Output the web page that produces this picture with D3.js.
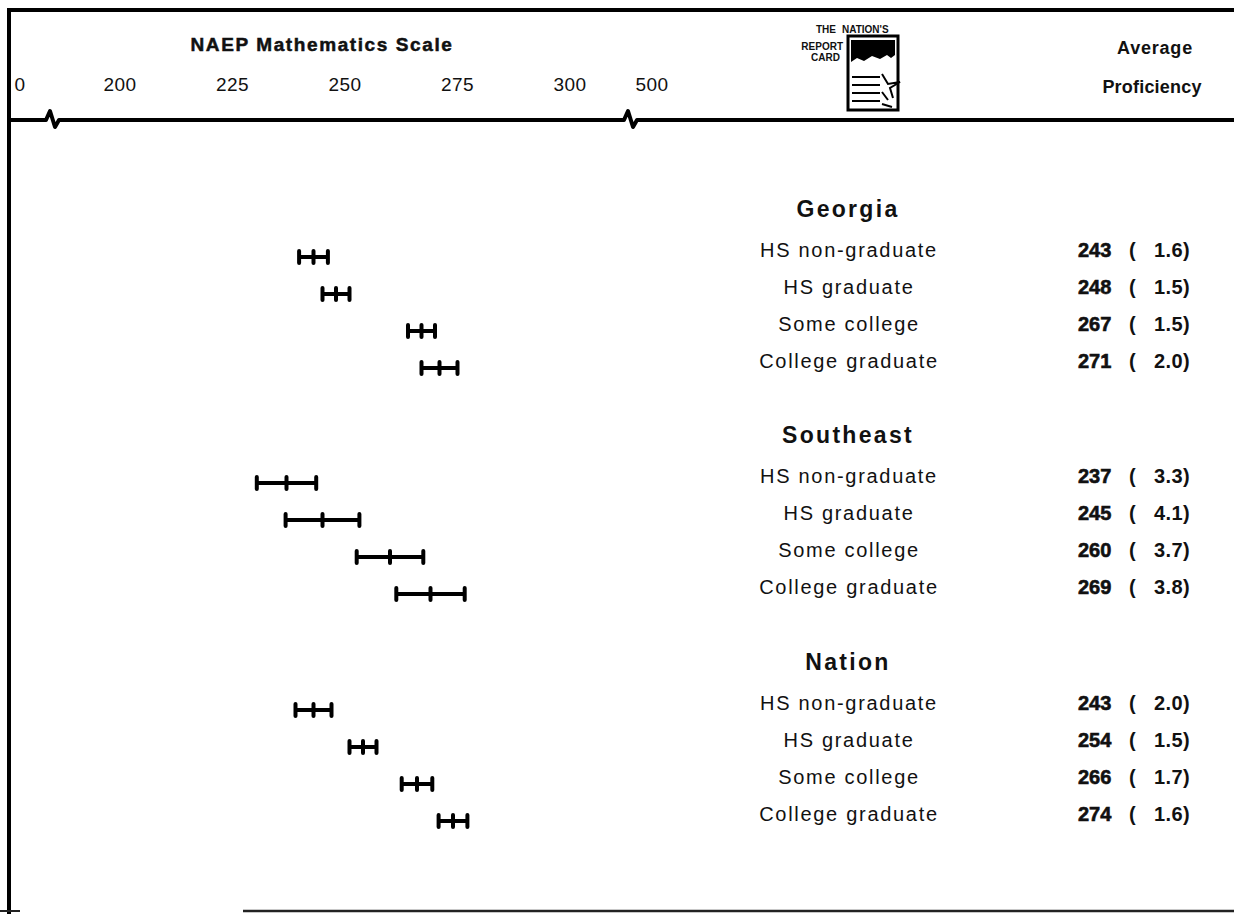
<!DOCTYPE html>
<html>
<head>
<meta charset="utf-8">
<script src="https://cdn.jsdelivr.net/npm/d3@7"></script>
<style>
  html, body { margin: 0; padding: 0; background: #fff; }
  text { font-family: "Liberation Sans", Arial, sans-serif; fill: #111; }
</style>
</head>
<body>
<div id="root"></div>
<script>
// data
const groups = ["Georgia", "Southeast", "Nation"];
const levels = ["HS non-graduate", "HS graduate", "Some college", "College graduate"];
const georgiaMeans = [243, 248, 267, 271];
const georgiaSE = [1.6, 1.5, 1.5, 2.0];
const southeastMeans = [237, 245, 260, 269];
const southeastSE = [3.3, 4.1, 3.7, 3.8];
const nationMeans = [243, 254, 266, 274];
const nationSE = [2.0, 1.5, 1.7, 1.6];
const tickValues = [0, 200, 225, 250, 275, 300, 500];

const w = 1234;
const h = 914;

const svg = d3.select("#root")
    .append("svg")
    .attr("width", w)
    .attr("height", h);

// broken axis: 0 | 200..300 | 500
const x = d3.scaleLinear()
    .domain([0, 200, 300, 500])
    .range([20, 120, 570, 652]);

const groupBase = [217, 443, 670];
const rowY = (g, i) => groupBase[g] + 40 + i * 37;

const rows = [];
[[georgiaMeans, georgiaSE], [southeastMeans, southeastSE], [nationMeans, nationSE]].forEach(([m, s], g) => {
    levels.forEach((lv, i) => rows.push({ group: g, i: i, level: lv, mean: m[i], se: s[i] }));
});

// frame
svg.append("line").attr("x1", 7).attr("x2", w).attr("y1", 10).attr("y2", 10)
    .attr("stroke", "#000").attr("stroke-width", 4);
svg.append("line").attr("x1", 9).attr("x2", 9).attr("y1", 8).attr("y2", h)
    .attr("stroke", "#000").attr("stroke-width", 4);
svg.append("line").attr("x1", 243).attr("x2", w).attr("y1", 911).attr("y2", 911)
    .attr("stroke", "#222").attr("stroke-width", 2.5);
svg.append("line").attr("x1", 0).attr("x2", 20).attr("y1", 911).attr("y2", 911)
    .attr("stroke", "#222").attr("stroke-width", 2);

// header bottom line with two break marks
const hy = 120;
const brk = (bx) => `L${bx - 6},${hy} L${bx - 2},${hy - 9} L${bx + 3},${hy + 7} L${bx + 7},${hy}`;
svg.append("path")
    .attr("d", `M7,${hy} ${brk(52)} ${brk(630)} L${w},${hy}`)
    .attr("fill", "none").attr("stroke", "#000").attr("stroke-width", 4)
    .attr("stroke-linejoin", "round");

// title + tick labels
svg.append("text")
    .attr("x", 322).attr("y", 51)
    .attr("text-anchor", "middle")
    .attr("font-size", 19).attr("font-weight", "bold")
    .attr("letter-spacing", 1.6)
    .attr("stroke", "#111").attr("stroke-width", 0.5)
    .text("NAEP Mathematics Scale");

svg.append("g").selectAll("text")
    .data(tickValues)
    .enter()
    .append("text")
    .attr("x", d => x(d))
    .attr("y", 91)
    .attr("text-anchor", "middle")
    .attr("font-size", 19)
    .attr("letter-spacing", 0.5)
    .text(d => d);

// right header
svg.append("text").attr("x", 1155).attr("y", 54).attr("text-anchor", "middle")
    .attr("font-size", 18).attr("font-weight", "bold").attr("letter-spacing", 0.8)
    .text("Average");
svg.append("text").attr("x", 1152).attr("y", 93).attr("text-anchor", "middle")
    .attr("font-size", 18).attr("font-weight", "bold").attr("letter-spacing", 0.2)
    .text("Proficiency");

// report card logo
const logo = svg.append("g");
logo.append("text").attr("x", 836).attr("y", 33).attr("text-anchor", "end")
    .attr("font-size", 10).attr("font-weight", "bold").text("THE");
logo.append("text").attr("x", 842).attr("y", 33)
    .attr("font-size", 10).attr("font-weight", "bold").text("NATION'S");
logo.append("text").attr("x", 843).attr("y", 50).attr("text-anchor", "end")
    .attr("font-size", 10).attr("font-weight", "bold").text("REPORT");
logo.append("text").attr("x", 840).attr("y", 61).attr("text-anchor", "end")
    .attr("font-size", 10).attr("font-weight", "bold").text("CARD");
logo.append("rect").attr("x", 848).attr("y", 36).attr("width", 50).attr("height", 74)
    .attr("fill", "none").attr("stroke", "#000").attr("stroke-width", 3);
logo.append("path")
    .attr("d", "M851,40 L895,40 L895,55 L891,58 L887,55 L880,59 L872,56 L864,61 L857,58 L851,62 Z")
    .attr("fill", "#000");
[77, 85, 93, 101].forEach(ly => {
    logo.append("line").attr("x1", 852).attr("x2", 880).attr("y1", ly).attr("y2", ly)
        .attr("stroke", "#000").attr("stroke-width", 2);
});
logo.append("path")
    .attr("d", "M882,74 L888,84 L900,82 L890,88 L893,98 M882,92 L888,100 M882,104 L892,107")
    .attr("fill", "none").attr("stroke", "#000").attr("stroke-width", 2);

// group headers
svg.append("g").selectAll("text")
    .data(groups)
    .enter()
    .append("text")
    .attr("x", 848)
    .attr("y", (d, g) => groupBase[g])
    .attr("text-anchor", "middle")
    .attr("font-size", 23).attr("font-weight", "bold")
    .attr("letter-spacing", 2.3)
    .text(d => d);

// row labels
svg.append("g").selectAll("text")
    .data(rows)
    .enter()
    .append("text")
    .attr("x", 849)
    .attr("y", d => rowY(d.group, d.i))
    .attr("text-anchor", "middle")
    .attr("font-size", 20)
    .attr("letter-spacing", 1.7)
    .text(d => d.level);

// values
const vals = svg.append("g");
vals.selectAll(".mean")
    .data(rows)
    .enter()
    .append("text")
    .attr("class", "mean")
    .attr("x", 1078)
    .attr("y", d => rowY(d.group, d.i))
    .attr("font-size", 20).attr("font-weight", "bold")
    .attr("stroke", "#111").attr("stroke-width", 0.6)
    .text(d => d.mean);
vals.selectAll(".se")
    .data(rows)
    .enter()
    .append("text")
    .attr("class", "se")
    .attr("x", 1129)
    .attr("y", d => rowY(d.group, d.i))
    .attr("font-size", 20).attr("font-weight", "bold")
    .attr("letter-spacing", 0.4)
    .style("white-space", "pre")
    .text(d => `(   ${d.se.toFixed(1)})`);

// error bars: mean +/- 2 SE
const bars = svg.append("g");
rows.forEach(d => {
    const y = rowY(d.group, d.i);
    const lo = x(d.mean - 2 * d.se);
    const hi = x(d.mean + 2 * d.se);
    bars.append("line").attr("x1", lo).attr("x2", hi).attr("y1", y).attr("y2", y)
        .attr("stroke", "#000").attr("stroke-width", 4);
    [lo, x(d.mean), hi].forEach(cx => {
        bars.append("line").attr("x1", cx).attr("x2", cx).attr("y1", y - 6).attr("y2", y + 6)
            .attr("stroke", "#000").attr("stroke-width", 4)
            .attr("stroke-linecap", "round");
    });
});
</script>
</body>
</html>
